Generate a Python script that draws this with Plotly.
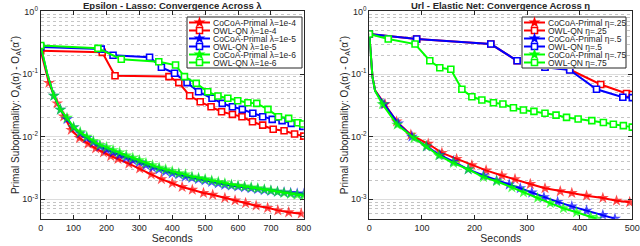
import plotly.graph_objects as go

# ---------------- Left panel: Epsilon - Lasso, convergence across lambda ----------------
lasso_cocoa_1e4_t = [0, 25, 50, 70, 93, 118, 144, 167, 191, 213, 235, 268, 301, 336, 367, 400, 430, 461,
                     495, 523, 560, 591, 623, 655, 690, 721, 754, 792]
lasso_cocoa_1e4_v = [0.236, 0.072, 0.034, 0.021, 0.0128, 0.0095, 0.0077, 0.0065, 0.0056, 0.0049, 0.0044,
                     0.0037, 0.0031, 0.0025, 0.0021, 0.00181, 0.00157, 0.00142, 0.00126, 0.00118, 0.00105,
                     0.00096, 0.00087, 0.00079, 0.00073, 0.000665, 0.00062, 0.00059]
lasso_owl_1e4_t = [0, 187, 226, 390, 420, 453, 485, 518, 550, 583, 612, 644, 675, 707, 740, 772, 800]
lasso_owl_1e4_v = [0.236, 0.222, 0.094, 0.091, 0.073, 0.045, 0.036, 0.030, 0.025, 0.0227, 0.0208, 0.0173,
                   0.0153, 0.0131, 0.0124, 0.011, 0.0102]

lasso_cocoa_1e5_t = [0, 20, 40, 60, 80, 100, 120, 140, 160, 180, 200, 220, 240, 260, 280, 300, 320, 340,
                     360, 380, 400, 420, 440, 460, 480, 500, 520, 540, 560, 580, 600, 620, 640, 660, 680,
                     700, 720, 740, 760, 780, 800]
lasso_cocoa_1e5_v = [0.27, 0.10, 0.045, 0.027, 0.019, 0.014, 0.0113, 0.0095, 0.0081, 0.0070, 0.0062, 0.0056,
                     0.0051, 0.0046, 0.0042, 0.0039, 0.0035, 0.0032, 0.0030, 0.0028, 0.0026, 0.0025, 0.0023,
                     0.0022, 0.0021, 0.0020, 0.0019, 0.0018, 0.0017, 0.00165, 0.0016, 0.00155, 0.0015,
                     0.00145, 0.0014, 0.00136, 0.00132, 0.00129, 0.00126, 0.00124, 0.00122]
lasso_owl_1e5_t = [0, 184, 220, 331, 367, 407, 445, 480, 521, 552, 583, 613, 645, 675, 704, 734, 762, 797]
lasso_owl_1e5_v = [0.27, 0.25, 0.20, 0.185, 0.128, 0.103, 0.073, 0.052, 0.041, 0.034, 0.030, 0.0273, 0.0236,
                   0.0208, 0.0189, 0.018, 0.0163, 0.0146]

lasso_cocoa_1e6_t = [0, 20, 40, 60, 80, 100, 120, 140, 160, 180, 200, 220, 240, 260, 280, 300, 320, 340,
                     360, 380, 400, 420, 440, 460, 480, 500, 520, 540, 560, 580, 600, 620, 640, 660, 680,
                     700, 720, 740, 760, 780, 800]
lasso_cocoa_1e6_v = [0.285, 0.10, 0.045, 0.027, 0.020, 0.0142, 0.0118, 0.0100, 0.0085, 0.0074, 0.0068, 0.0061,
                     0.0056, 0.0050, 0.0046, 0.0042, 0.0038, 0.0035, 0.0032, 0.0030, 0.0028, 0.0026, 0.0025,
                     0.0023, 0.0022, 0.0021, 0.0020, 0.0019, 0.0018, 0.0017, 0.00165, 0.0016, 0.00155,
                     0.0015, 0.00144, 0.00138, 0.00132, 0.00127, 0.00122, 0.00118, 0.00114]
lasso_owl_1e6_t = [0, 174, 245, 359, 410, 437, 473, 508, 539, 569, 599, 630, 657, 691, 723, 754, 782, 797]
lasso_owl_1e6_v = [0.285, 0.257, 0.172, 0.157, 0.139, 0.091, 0.071, 0.052, 0.0446, 0.041, 0.0375, 0.0348,
                   0.034, 0.0273, 0.0208, 0.0196, 0.0167, 0.0159]

# ---------------- Right panel: Url - Elastic Net, convergence across eta ----------------
enet_cocoa_25_t = [0, 6, 11, 30, 52, 79, 112, 138, 166, 195, 222, 252, 277, 306, 334, 363, 385, 413, 444, 470, 495]
enet_cocoa_25_v = [0.435, 0.091, 0.055, 0.033, 0.0175, 0.0107, 0.0077, 0.0055, 0.0044, 0.0035, 0.0029, 0.0024,
                   0.0021, 0.00175, 0.0015, 0.00134, 0.00126, 0.00114, 0.00105, 0.00095, 0.0009]
enet_owl_25_t = [0, 90, 231, 281, 334, 381, 440, 489, 500]
enet_owl_25_v = [0.435, 0.362, 0.301, 0.163, 0.13, 0.118, 0.068, 0.049, 0.047]

enet_cocoa_5_t = [0, 6, 11, 28, 55, 81, 109, 134, 160, 188, 217, 242, 266, 287, 309, 332, 358, 385, 413, 444, 467]
enet_cocoa_5_v = [0.435, 0.09, 0.054, 0.033, 0.0163, 0.0100, 0.0070, 0.0051, 0.0040, 0.0030, 0.0024, 0.0020,
                  0.00172, 0.0015, 0.00128, 0.00108, 0.00091, 0.00077, 0.00066, 0.00056, 0.00049]
enet_owl_5_t = [0, 90, 231, 281, 334, 381, 432, 482, 500]
enet_owl_5_v = [0.435, 0.362, 0.301, 0.163, 0.128, 0.116, 0.057, 0.0425, 0.042]

enet_cocoa_75_t = [0, 6, 11, 25, 53, 85, 108, 132, 160, 188, 217, 242, 271, 293, 320, 344, 369, 394, 421, 432]
enet_cocoa_75_v = [0.435, 0.09, 0.054, 0.033, 0.0155, 0.0095, 0.0070, 0.0050, 0.0038, 0.0030, 0.00226, 0.00194,
                   0.00155, 0.00129, 0.00105, 0.00087, 0.00072, 0.00062, 0.00052, 0.00049]
enet_owl_75_t = [0, 36, 87, 115, 134, 155, 176, 195, 214, 236, 254, 274, 293, 313, 334, 355, 375, 397, 423, 445,
                 464, 483, 500]
enet_owl_75_v = [0.435, 0.362, 0.301, 0.163, 0.126, 0.119, 0.057, 0.0434, 0.0385, 0.0348, 0.0332, 0.029, 0.0266,
                 0.0253, 0.0236, 0.0221, 0.0203, 0.0191, 0.018, 0.0168, 0.0158, 0.015, 0.0142]

left_labels = ["CoCoA-Primal λ=1e-4", "OWL-QN λ=1e-4", "CoCoA-Primal λ=1e-5",
               "OWL-QN λ=1e-5", "CoCoA-Primal λ=1e-6", "OWL-QN λ=1e-6"]
right_labels = ["CoCoA-Primal η=.25", "OWL-QN η=.25", "CoCoA-Primal η=.5",
                "OWL-QN η=.5", "CoCoA-Primal η=.75", "OWL-QN η=.75"]
colors = ["#FF0000", "#FF0000", "#0000FF", "#0000FF", "#00FF00", "#00FF00"]
kinds = ["cocoa", "owl", "cocoa", "owl", "cocoa", "owl"]

left_series = [(lasso_cocoa_1e4_t, lasso_cocoa_1e4_v), (lasso_owl_1e4_t, lasso_owl_1e4_v),
               (lasso_cocoa_1e5_t, lasso_cocoa_1e5_v), (lasso_owl_1e5_t, lasso_owl_1e5_v),
               (lasso_cocoa_1e6_t, lasso_cocoa_1e6_v), (lasso_owl_1e6_t, lasso_owl_1e6_v)]
right_series = [(enet_cocoa_25_t, enet_cocoa_25_v), (enet_owl_25_t, enet_owl_25_v),
                (enet_cocoa_5_t, enet_cocoa_5_v), (enet_owl_5_t, enet_owl_5_v),
                (enet_cocoa_75_t, enet_cocoa_75_v), (enet_owl_75_t, enet_owl_75_v)]

FONT = "Liberation Sans, Arial, Helvetica, sans-serif"
W, H = 640, 246


def marker_for(kind, color, ts=None):
    if kind == "cocoa":
        sizes = 9 if ts is None else [0 if t < 24 else 9 for t in ts]
        return dict(symbol="star", size=sizes, color=color, line=dict(width=0))
    return dict(symbol="square", size=6, color="white", line=dict(color=color, width=1.6))


fig = go.Figure()
for (ts, vs), c, k, lab in zip(left_series, colors, kinds, left_labels):
    fig.add_trace(go.Scatter(x=ts, y=vs, mode="lines+markers", name=lab, xaxis="x", yaxis="y",
                             line=dict(color=c, width=2), marker=marker_for(k, c, ts), showlegend=False))
for (ts, vs), c, k, lab in zip(right_series, colors, kinds, right_labels):
    fig.add_trace(go.Scatter(x=ts, y=vs, mode="lines+markers", name=lab, xaxis="x2", yaxis="y2",
                             line=dict(color=c, width=2), marker=marker_for(k, c, ts), showlegend=False))


# ---------------- hand-built compact legends (overlay axes) ----------------
def px_dom_x(a, b):
    return [a / W, b / W]


def px_dom_y(top, bottom):
    return [1 - bottom / H, 1 - top / H]


def add_legend(xa, ya, labels, box_w):
    box_h = 51
    fig.add_trace(go.Scatter(x=[0, box_w, box_w, 0, 0], y=[0, 0, box_h, box_h, 0], mode="lines",
                             fill="toself", fillcolor="white", line=dict(color="#262626", width=1),
                             xaxis=xa, yaxis=ya, showlegend=False, hoverinfo="skip"))
    for i, (lab, c, k) in enumerate(zip(labels, colors, kinds)):
        row = 5.5 + i * 8
        fig.add_trace(go.Scatter(x=[2, 12.5, 23], y=[row, row, row], mode="lines+markers",
                                 line=dict(color=c, width=2),
                                 marker=dict(marker_for(k, c), opacity=[0, 1, 0],
                                             size=(9 if k == "cocoa" else 6)),
                                 xaxis=xa, yaxis=ya, showlegend=False, hoverinfo="skip"))
        fig.add_annotation(x=24, y=row, xref=xa, yref=ya, text=lab, showarrow=False, xanchor="left",
                           yanchor="middle", font=dict(family=FONT, size=8.5, color="#262626"))


add_legend("x3", "y3", left_labels, 115)
add_legend("x4", "y4", right_labels, 104)

minor_vals = [m * 10.0 ** e for e in (-4, -3, -2, -1) for m in range(2, 10)]
ytick_vals = [1e-3, 1e-2, 1e-1, 1]
ytick_text = ["10<sup>-3</sup>", "10<sup>-2</sup>", "10<sup>-1</sup>", "10<sup>0</sup>"]
ylabel = "Primal Suboptimality: O<sub>A</sub>(α) - O<sub>A</sub>(α<sup>*</sup>)"

tickfont = dict(family=FONT, size=9, color="#262626")
common = dict(showline=True, linecolor="#262626", linewidth=1, mirror="ticks", ticks="inside",
              ticklen=4, tickcolor="#262626", tickfont=tickfont, zeroline=False, automargin=False)

ydom = px_dom_y(11.4, 218.7)


def yaxis_def(anchor):
    return dict(common, type="log", range=[-3.31, 0], tickvals=ytick_vals, ticktext=ytick_text,
                showgrid=True, gridcolor="#dcdcdc", gridwidth=1, domain=ydom, anchor=anchor,
                minor=dict(tickvals=minor_vals, showgrid=True, gridcolor="#c4c4c4", griddash="dot",
                           gridwidth=1, ticks=""),
                title=dict(text=ylabel, font=dict(family=FONT, size=10, color="#262626"), standoff=0))


def xaxis_def(dom, rng, anchor):
    return dict(common, range=rng, dtick=100, showgrid=False, domain=dom, anchor=anchor,
                title=dict(text="Seconds", font=dict(family=FONT, size=10.5, color="#262626"), standoff=1))


hidden = dict(visible=False, showgrid=False, zeroline=False, fixedrange=True)

fig.update_layout(
    width=W, height=H, margin=dict(l=0, r=0, t=0, b=0, autoexpand=False),
    paper_bgcolor="white", plot_bgcolor="white", showlegend=False,
    xaxis=xaxis_def(px_dom_x(40.7, 303.8), [0, 800], "y"),
    yaxis=yaxis_def("x"),
    xaxis2=xaxis_def(px_dom_x(369.3, 632.3), [0, 500], "y2"),
    yaxis2=yaxis_def("x2"),
    xaxis3=dict(hidden, domain=px_dom_x(186, 303), range=[-1, 116], anchor="y3"),
    yaxis3=dict(hidden, domain=px_dom_y(16, 69), range=[52, -1], anchor="x3"),
    xaxis4=dict(hidden, domain=px_dom_x(521, 627), range=[-1, 105], anchor="y4"),
    yaxis4=dict(hidden, domain=px_dom_y(16, 69), range=[52, -1], anchor="x4"),
)

titles = [("Epsilon - Lasso: Convergence Across λ", (40.7 + 303.8) / 2),
          ("Url - Elastic Net: Convergence Across η", (369.3 + 632.3) / 2)]
for txt, cx in titles:
    fig.add_annotation(x=cx / W, y=1 - 5.5 / H, xref="paper", yref="paper", text="<b>" + txt + "</b>",
                       showarrow=False, xanchor="center", yanchor="middle",
                       font=dict(family=FONT, size=9.5, color="#262626"))

fig.write_html("out.html", config={"displayModeBar": False},
               post_script="document.body.style.margin='0';")
